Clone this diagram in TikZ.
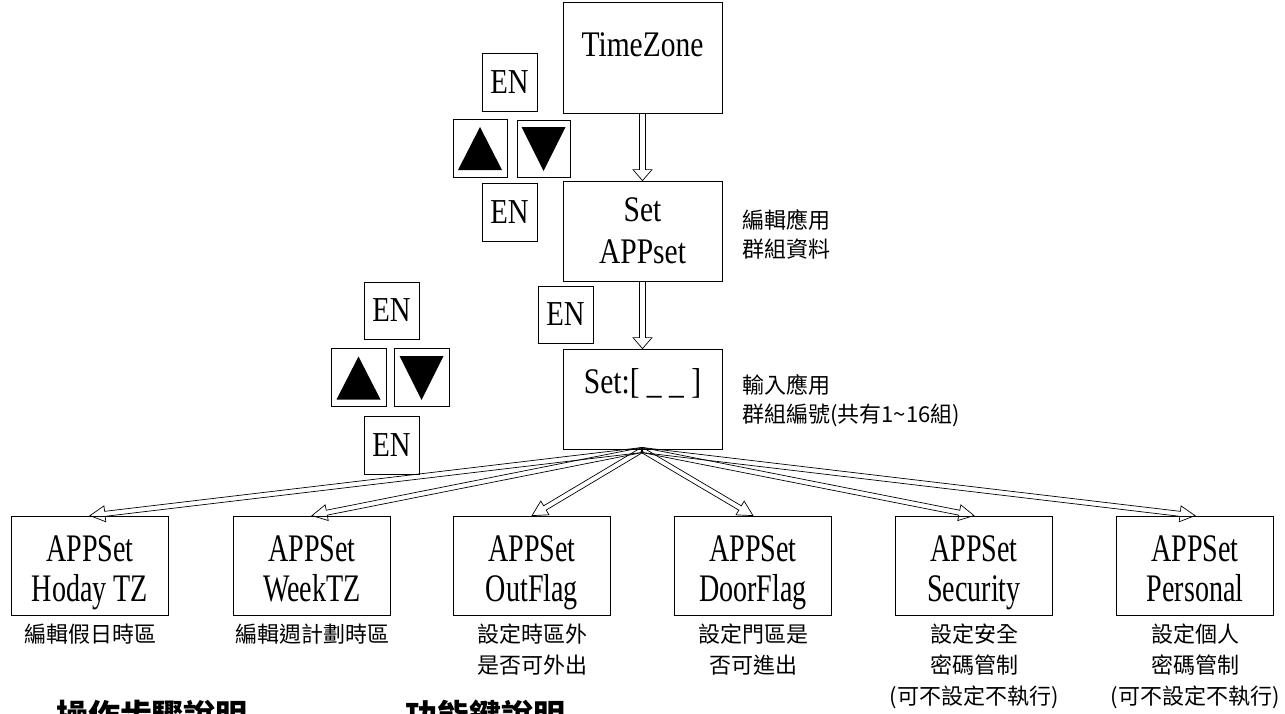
\documentclass[tikz,border=0pt]{standalone}
\usepackage{fontspec}
\setmainfont{Liberation Serif}
\newfontfamily\lat{Liberation Serif}[FakeStretch=0.82]
\newfontfamily\latb{Liberation Serif}[FakeStretch=0.72]
\newfontfamily\cjk{Noto Sans CJK TC}
\usetikzlibrary{calc}
\newcommand\blkarrow[5]{%
  \coordinate (bat) at (#1);
  \coordinate (bah) at ($(#2)!#3!(#1)$);
  \draw[arrowline] ($(bat)!#5!90:(bah)$) -- ($(bah)!#5!-90:(bat)$) -- ($(bah)!#4!-90:(bat)$) -- (#2)
    -- ($(bah)!#4!90:(bat)$) -- ($(bah)!#5!90:(bat)$) -- ($(bat)!#5!-90:(bah)$) -- cycle;}
\newcommand\twolines[2]{\rule{0pt}{44pt}#1\\#2\rule[-12pt]{0pt}{12pt}}
\begin{document}
\begin{tikzpicture}[x=1pt,y=-1pt,
  box/.style={draw, line width=0.8pt, inner sep=0pt, minimum width=159, minimum height=100},
  bbox/.style={draw, line width=0.8pt, inner sep=0pt, minimum width=157, minimum height=99,
    align=center, font=\latb\fontsize{39}{40}\selectfont},
  keybox/.style={draw, line width=0.8pt, inner sep=0pt, minimum width=55, minimum height=58,
    font=\lat\fontsize{35}{35}\selectfont},
  maintext/.style={inner sep=0pt, align=center, font=\lat\fontsize{36}{42}\selectfont},
  note/.style={inner sep=0pt, align=center, anchor=north, font=\cjk\fontsize{22}{31}\selectfont},
  sidenote/.style={inner sep=0pt, align=left, anchor=north west, font=\cjk\fontsize{22}{29}\selectfont},
  heading/.style={inner sep=0pt, anchor=base, font=\cjk\bfseries\fontsize{32}{32}\selectfont},
  arrowline/.style={draw, line width=0.7pt, line join=miter},
  tri/.style={fill=black}]
\useasboundingbox (0,0) rectangle (1285,713);
\clip (0,0) rectangle (1285,713);

% main column
\node[box, minimum height=111] (tz) at (642.5,57.5) {};
\node[maintext] (tzt) at (642.5,45) {TimeZone};
\node[box] (app) at (642.5,231) {};
\node[maintext] (appt) at (642.5,231) {Set\\APPset};
\node[box] (set) at (642.5,399) {};
\node[maintext] (sett) at (642.5,383) {Set:[ \_ \_ ]};

\node[sidenote] (n1) at (742,209) {編輯應用\\群組資料};
\node[sidenote] (n2) at (742,374) {輸入應用\\群組編號(共有1\textasciitilde 16組)};

% key group top
\node[keybox] (en1) at (509.5,82) {EN};
\node[keybox, minimum width=54] (up1) at (480,148) {};
\node[keybox, minimum width=53, minimum height=57] (dn1) at (543.5,148.5) {};
\node[keybox] (en2) at (509.5,212) {EN};
\fill[tri] ($(up1.center)+(0,-21)$) -- ($(up1.center)+(-22,22)$) -- ($(up1.center)+(22,22)$) -- cycle;
\fill[tri] ($(dn1.center)+(-22,-21.5)$) -- ($(dn1.center)+(22,-21.5)$) -- ($(dn1.center)+(0,22.5)$) -- cycle;

% middle EN
\node[keybox, minimum height=57] (en5) at (565.5,314.5) {EN};

% key group left
\node[keybox, minimum height=57] (en3) at (391.5,310.5) {EN};
\node[keybox] (up2) at (358.5,377.5) {};
\node[keybox] (dn2) at (421.5,377.5) {};
\node[keybox] (en4) at (391.5,445) {EN};
\fill[tri] ($(up2.center)+(0,-21)$) -- ($(up2.center)+(-22,22)$) -- ($(up2.center)+(22,22)$) -- cycle;
\fill[tri] ($(dn2.center)+(-22,-21.5)$) -- ($(dn2.center)+(22,-21.5)$) -- ($(dn2.center)+(0,22.5)$) -- cycle;

% bottom boxes
\node[bbox] (b1) at (90,565.5) {\twolines{APPSet}{Hoday TZ}};
\node[bbox] (b2) at (312,565.5) {\twolines{APPSet}{WeekTZ}};
\node[bbox] (b3) at (532,565.5) {\twolines{APPSet}{OutFlag}};
\node[bbox] (b4) at (753,565.5) {\twolines{APPSet}{DoorFlag}};
\node[bbox] (b5) at (974,565.5) {\twolines{APPSet}{Security}};
\node[bbox] (b6) at (1195,565.5) {\twolines{APPSet}{Personal}};

\node[note] (l1) at (90,624) {編輯假日時區};
\node[note] (l2) at (312,624) {編輯週計劃時區};
\node[note] (l3) at (532,624) {設定時區外\\是否可外出};
\node[note] (l4) at (753,624) {設定門區是\\否可進出};
\node[note] (l5) at (974,624) {設定安全\\密碼管制\\(可不設定不執行)};
\node[note] (l6) at (1195,624) {設定個人\\密碼管制\\(可不設定不執行)};

% clipped headings
\node[heading] (h1) at (152,727) {操作步驟說明};
\node[heading] (h2) at (485,727) {功能鍵說明};

% arrows
\blkarrow{tz.south}{app.north}{11pt}{9.5pt}{3pt}
\blkarrow{app.south}{set.north}{11pt}{9.5pt}{3pt}
\coordinate (src) at (642,450);
\foreach \b in {b1,b2,b3,b4,b5,b6}{
  \blkarrow{src}{\b.north}{15pt}{8pt}{2.5pt}
}
\end{tikzpicture}
\end{document}
